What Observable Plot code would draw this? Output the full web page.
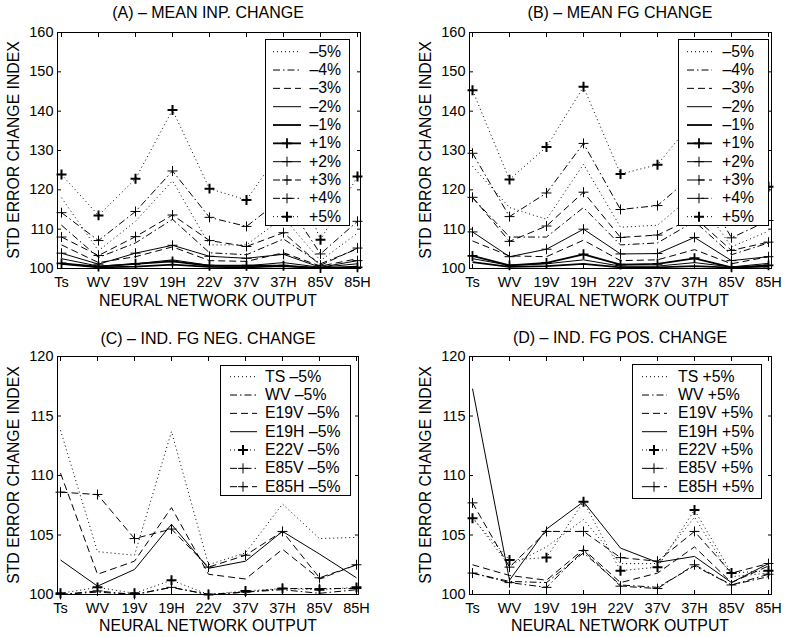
<!DOCTYPE html>
<html><head><meta charset="utf-8">
<script src="https://cdn.jsdelivr.net/npm/d3@7"></script>
<script src="https://cdn.jsdelivr.net/npm/@observablehq/plot@0.6"></script>
<style>
body{margin:0;background:#fff;}
#root{position:relative;width:792px;height:637px;font-family:"Liberation Sans",Arial,Helvetica,sans-serif;color:#000;overflow:hidden;background:#fff;}
.abs{position:absolute;}
.title{font-size:16px;text-align:center;white-space:nowrap;line-height:18px;}
.xlab{font-size:15.8px;text-align:center;white-space:nowrap;line-height:18px;}
.ylab{font-size:15.8px;white-space:nowrap;line-height:18px;transform:translate(-50%,-50%) rotate(-90deg);}
.legend{background:#fff;border:1.5px solid #000;box-sizing:border-box;}
.ltext{font-size:15.8px;line-height:18px;white-space:nowrap;}
</style></head><body><div id="root"></div>
<script>
// ---------- data ----------
const categories = ["Ts","WV","19V","19H","22V","37V","37H","85V","85H"];
const yTicksTop = [100,110,120,130,140,150,160];
const yTicksBottom = [100,105,110,115,120];

// (A) mean input change
const aLabels = ["–5%","–4%","–3%","–2%","–1%","+1%","+2%","+3%","+4%","+5%"];
const aM5 = [118.0, 104.5, 112.0, 122.3, 106.0, 106.0, 113.0, 102.0, 109.0];
const aM4 = [111.0, 102.8, 106.5, 112.5, 104.0, 103.5, 107.5, 101.2, 105.0];
const aM3 = [106.0, 101.5, 103.0, 105.5, 102.0, 101.8, 104.0, 100.6, 102.5];
const aM2 = [102.5, 100.6, 101.2, 102.2, 100.8, 100.7, 101.5, 100.3, 101.2];
const aM1 = [101.2, 100.3, 100.5, 101.0, 100.4, 100.3, 100.6, 100.1, 100.5];
const aP1 = [101.3, 100.5, 101.2, 101.8, 100.7, 100.7, 100.7, 100.1, 100.3];
const aP2 = [103.9, 101.1, 103.9, 105.9, 103.1, 102.6, 103.6, 100.3, 102.0];
const aP3 = [108.0, 103.3, 108.1, 113.6, 107.1, 105.6, 109.1, 100.8, 105.2];
const aP4 = [114.2, 107.1, 114.5, 124.8, 113.0, 110.7, 118.0, 103.7, 112.0];
const aP5 = [123.9, 113.5, 122.8, 140.3, 120.3, 117.4, 131.0, 107.3, 123.4];

// (B) mean FG change
const bLabels = aLabels;
const bM5 = [126.0, 115.5, 112.5, 126.5, 110.5, 111.0, 119.0, 105.5, 109.5];
const bM4 = [118.0, 108.0, 108.0, 115.5, 106.0, 106.5, 112.0, 103.5, 106.5];
const bM3 = [107.0, 103.2, 103.0, 107.2, 102.0, 102.2, 104.8, 101.2, 103.0];
const bM2 = [102.5, 100.8, 101.2, 102.2, 100.6, 100.6, 101.5, 100.4, 101.3];
const bM1 = [101.6, 100.4, 100.6, 101.2, 100.3, 100.3, 100.6, 100.2, 100.5];
const bP1 = [103.2, 100.8, 101.4, 103.6, 101.0, 101.2, 102.6, 100.3, 100.8];
const bP2 = [109.3, 103.0, 104.9, 110.0, 103.7, 103.8, 107.9, 102.0, 103.0];
const bP3 = [118.1, 106.9, 110.8, 119.4, 107.9, 108.5, 113.0, 104.6, 106.7];
const bP4 = [129.3, 113.2, 119.2, 131.8, 115.0, 116.0, 124.0, 107.8, 112.2];
const bP5 = [145.3, 122.6, 130.9, 146.2, 124.0, 126.4, 138.0, 118.0, 120.8];

// (C) individual FG negative change
const cLabels = ["TS –5%","WV –5%","E19V –5%","E19H –5%","E22V –5%","E85V –5%","E85H –5%"];
const cTS   = [113.8, 103.6, 103.3, 113.7, 102.5, 103.5, 107.6, 104.7, 104.8];
const cWV   = [100.0, 100.2, 100.0, 100.6, 100.0, 100.2, 100.4, 100.1, 100.4];
const cE19V = [110.2, 101.7, 102.8, 107.3, 101.7, 101.3, 103.8, 101.3, 102.5];
const cE19H = [102.9, 100.7, 102.1, 105.9, 102.2, 102.8, 105.3, 103.4, 101.4];
const cE22V = [100.1, 100.6, 100.1, 101.2, 100.0, 100.3, 100.5, 100.4, 100.6];
const cE85V = [100.0, 100.3, 100.0, 100.6, 100.0, 100.2, 100.5, 100.5, 100.5];
const cE85H = [108.6, 108.4, 104.7, 105.5, 102.3, 103.3, 105.3, 101.4, 102.5];

// (D) individual FG positive change
const dLabels = ["TS +5%","WV +5%","E19V +5%","E19H +5%","E22V +5%","E85V +5%","E85H +5%"];
const dTS   = [106.5, 102.4, 104.0, 106.3, 102.6, 102.6, 106.5, 101.5, 101.8];
const dWV   = [101.8, 101.1, 101.0, 103.5, 100.8, 100.6, 102.4, 100.8, 101.5];
const dE19V = [102.5, 101.6, 101.2, 103.8, 101.0, 101.8, 104.0, 101.0, 102.4];
const dE19H = [117.3, 101.2, 105.5, 107.8, 103.9, 102.7, 103.2, 101.0, 102.6];
const dE22V = [106.4, 102.9, 103.1, 107.8, 102.0, 102.3, 107.1, 101.8, 102.0];
const dE85V = [101.8, 101.0, 100.6, 103.7, 100.7, 100.5, 102.5, 100.8, 101.7];
const dE85H = [107.7, 102.3, 105.3, 105.3, 103.1, 102.8, 105.3, 101.8, 102.6];

// ---------- styles ----------
const DASH = {dotted: "1,3", dashdot: "7,3,1.5,3", dashed: "7,4", solid: null};
const abStyles = [
  {dash:"dotted", w:1}, {dash:"dashdot", w:1}, {dash:"dashed", w:1}, {dash:"solid", w:1}, {dash:"solid", w:1.8},
  {dash:"solid", w:1.8, mk:1.8}, {dash:"solid", w:1, mk:1}, {dash:"dashed", w:1, mk:1},
  {dash:"dashdot", w:1, mk:1}, {dash:"dotted", w:1, mk:2}
];
const cdStyles = [
  {dash:"dotted", w:1}, {dash:"dashdot", w:1}, {dash:"dashed", w:1}, {dash:"solid", w:1},
  {dash:"dotted", w:1, mk:2}, {dash:"dashdot", w:1, mk:1}, {dash:"dashed", w:1, mk:1}
];

const FONT = '"Liberation Sans", Arial, Helvetica, sans-serif';
const root = document.getElementById("root");

function drawPanel({values, labels, styles, yDomain, yTicks, left, top, width, height, margin}) {
  const marks = [];
  values.forEach((vals, k) => {
    const st = styles[k];
    const rows = vals.map((v, i) => ({cat: categories[i], v, s: labels[k]}));
    marks.push(Plot.line(rows, {x: "cat", y: "v", stroke: "black", strokeWidth: st.w,
      strokeDasharray: DASH[st.dash], strokeLinecap: "butt"}));
    if (st.mk) marks.push(Plot.dot(rows, {x: "cat", y: "v", symbol: "plus", r: 3.3, stroke: "black", strokeWidth: st.mk}));
  });
  marks.push(Plot.frame({stroke: "black", strokeWidth: 1}));
  marks.push(Plot.axisY({anchor: "left", ticks: yTicks, tickSize: -4, tickPadding: 8, label: null}));
  marks.push(Plot.axisY({anchor: "right", ticks: yTicks, tickSize: -4, tickFormat: () => "", label: null}));
  marks.push(Plot.axisX({anchor: "bottom", tickSize: -4, tickPadding: 12, label: null}));
  marks.push(Plot.axisX({anchor: "top", tickSize: -4, tickFormat: () => "", label: null}));
  const svg = Plot.plot({
    width, height,
    marginLeft: margin[0], marginRight: margin[1], marginTop: margin[2], marginBottom: margin[3],
    x: {type: "point", domain: categories, padding: 0},
    y: {domain: yDomain},
    style: {fontFamily: FONT, fontSize: "14.5px", color: "black", background: "transparent", overflow: "visible"},
    marks
  });
  const holder = document.createElement("div");
  holder.className = "abs";
  holder.style.left = left + "px"; holder.style.top = top + "px";
  holder.appendChild(svg);
  root.appendChild(holder);
}

function addText(cls, txt, cx, cy) {
  const d = document.createElement("div");
  d.className = "abs " + cls;
  d.textContent = txt;
  if (cls === "ylab") { d.style.left = cx + "px"; d.style.top = cy + "px"; }
  else { d.style.left = (cx - 200) + "px"; d.style.width = "400px"; d.style.top = (cy - 9) + "px"; }
  root.appendChild(d);
}

function addLegend({labels, styles, left, top, width, height, row0, step, sx0, sx1, mx, textRight, textLeft}) {
  const box = document.createElement("div");
  box.className = "abs legend";
  Object.assign(box.style, {left: left + "px", top: top + "px", width: width + "px", height: height + "px"});
  root.appendChild(box);
  const ns = "http://www.w3.org/2000/svg";
  const svg = document.createElementNS(ns, "svg");
  svg.setAttribute("width", width); svg.setAttribute("height", height);
  Object.assign(svg.style, {position: "absolute", left: left + "px", top: top + "px", overflow: "visible"});
  labels.forEach((lab, i) => {
    const st = styles[i];
    const cy = row0 + step * i - top;
    const ln = document.createElementNS(ns, "line");
    ln.setAttribute("x1", sx0 - left); ln.setAttribute("x2", sx1 - left);
    ln.setAttribute("y1", cy); ln.setAttribute("y2", cy);
    ln.setAttribute("stroke", "black"); ln.setAttribute("stroke-width", st.w);
    if (DASH[st.dash]) ln.setAttribute("stroke-dasharray", DASH[st.dash]);
    svg.appendChild(ln);
    if (st.mk) {
      const p = document.createElementNS(ns, "path");
      const x = mx - left;
      p.setAttribute("d", `M${x-5},${cy}H${x+5}M${x},${cy-5}V${cy+5}`);
      p.setAttribute("stroke", "black"); p.setAttribute("stroke-width", st.mk);
      svg.appendChild(p);
    }
    const t = document.createElement("div");
    t.className = "abs ltext";
    t.textContent = lab;
    t.style.top = (row0 + step * i - 9) + "px";
    if (textRight != null) { t.style.left = (textRight - 100) + "px"; t.style.width = "100px"; t.style.textAlign = "right"; }
    else { t.style.left = textLeft + "px"; }
    root.appendChild(t);
  });
  root.appendChild(svg);
}

// ---------- panels ----------
drawPanel({values: [aM5,aM4,aM3,aM2,aM1,aP1,aP2,aP3,aP4,aP5], labels: aLabels, styles: abStyles,
  yDomain: [100,160], yTicks: yTicksTop, left: 0, top: 0, width: 396, height: 310, margin: [57, 36, 32, 42]});
drawPanel({values: [bM5,bM4,bM3,bM2,bM1,bP1,bP2,bP3,bP4,bP5], labels: bLabels, styles: abStyles,
  yDomain: [100,160], yTicks: yTicksTop, left: 396, top: 0, width: 396, height: 310, margin: [73, 21, 32, 42]});
drawPanel({values: [cTS,cWV,cE19V,cE19H,cE22V,cE85V,cE85H], labels: cLabels, styles: cdStyles,
  yDomain: [100,120], yTicks: yTicksBottom, left: 0, top: 310, width: 396, height: 327, margin: [57, 38, 46, 43]});
drawPanel({values: [dTS,dWV,dE19V,dE19H,dE22V,dE85V,dE85H], labels: dLabels, styles: cdStyles,
  yDomain: [100,120], yTicks: yTicksBottom, left: 396, top: 310, width: 396, height: 327, margin: [73, 21, 46, 43]});

// titles and axis labels
addText("title", "(A) – MEAN INP. CHANGE", 208, 13);
addText("title", "(B) – MEAN FG CHANGE", 620, 13);
addText("title", "(C) – IND. FG NEG. CHANGE", 208, 339);
addText("title", "(D) – IND. FG POS. CHANGE", 620, 338);
addText("xlab", "NEURAL NETWORK OUTPUT", 208, 301);
addText("xlab", "NEURAL NETWORK OUTPUT", 620, 301);
addText("xlab", "NEURAL NETWORK OUTPUT", 208, 626);
addText("xlab", "NEURAL NETWORK OUTPUT", 620, 626);
addText("ylab", "STD ERROR CHANGE INDEX", 14, 150);
addText("ylab", "STD ERROR CHANGE INDEX", 426, 150);
addText("ylab", "STD ERROR CHANGE INDEX", 14, 475);
addText("ylab", "STD ERROR CHANGE INDEX", 426, 475);

// legends
addLegend({labels: aLabels, styles: abStyles, left: 265, top: 39, width: 85, height: 187,
  row0: 51.7, step: 18.33, sx0: 273, sx1: 301, mx: 287, textRight: 341});
addLegend({labels: bLabels, styles: abStyles, left: 678, top: 39, width: 91, height: 187,
  row0: 51.7, step: 18.33, sx0: 687, sx1: 712, mx: 699, textRight: 754});
addLegend({labels: cLabels, styles: cdStyles, left: 220, top: 365, width: 131, height: 131,
  row0: 376.7, step: 18.33, sx0: 230, sx1: 257, mx: 243, textLeft: 265});
addLegend({labels: dLabels, styles: cdStyles, left: 632, top: 364, width: 130, height: 135,
  row0: 376.7, step: 18.33, sx0: 642, sx1: 667, mx: 654, textLeft: 678});
</script></body></html>
